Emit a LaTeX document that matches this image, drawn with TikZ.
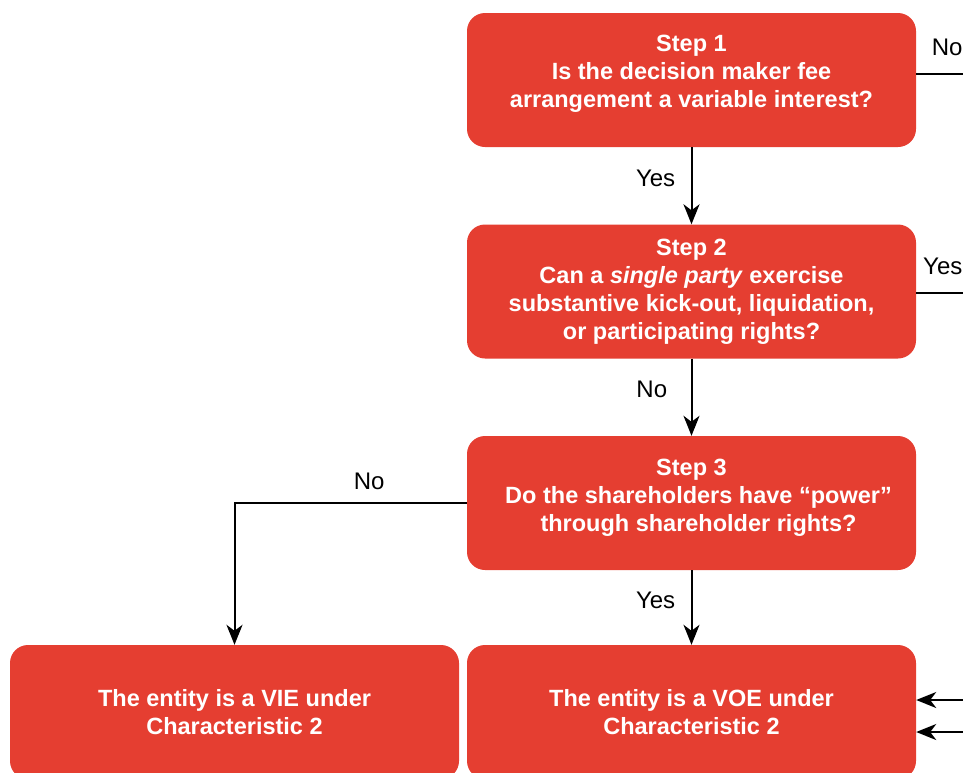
\documentclass[tikz,border=0pt]{standalone}
\usepackage{fontspec}
\setmainfont{Liberation Sans}
\usetikzlibrary{arrows.meta}
\definecolor{boxred}{RGB}{229, 62, 49}

\begin{document}
\begin{tikzpicture}[x=1pt, y=-1pt,
   box/.style={fill=boxred, rounded corners=18pt, minimum width=449pt, minimum height=134pt,
     inner sep=0pt, align=center, text=white, font=\fontsize{23.5}{28}\selectfont\bfseries},
   lab/.style={font=\fontsize{24}{28}\selectfont},
   wire/.style={line width=2pt},
   arr/.style={wire, -{Stealth[length=20pt, width=16pt, inset=6pt]}}]
   \clip (0,0) rectangle (963,772);

   \draw[]
    (691.5,80) node[box, text depth=18pt](s1) {Step 1\\Is the decision maker fee\\arrangement a variable interest?}
    (691.5,291.5) node[box](s2) {Step 2\\Can a \textit{single party} exercise\\substantive kick-out, liquidation,\\or participating rights?}
    (691.5,503) node[box, text depth=16pt](s3) {Step 3\\\hspace*{14pt}Do the shareholders have “power”\\\hspace*{14pt}through shareholder rights?}
    (234.5,712) node[box, text depth=1pt](vie) {The entity is a VIE under\\Characteristic 2}
    (691.5,712) node[box, text depth=1pt](voe) {The entity is a VOE under\\Characteristic 2};

   %down the steps
   \draw[arr] (s1) -- node[lab, pos=0.4, left=12pt] {Yes} (s2);
   \draw[arr] (s2) -- node[lab, pos=0.4, left=20pt] {No} (s3);
   \draw[arr] (s3) -- node[lab, pos=0.4, left=12pt] {Yes} (voe);
   \draw[arr] (s3.west) -| node[lab, pos=0.21, above=9pt] {No} (vie.north);

   %off to the right
   \coordinate (r1) at (990,74);
   \coordinate (r2) at (990,293);
   \coordinate (in1) at (990,700);
   \coordinate (in2) at (990,732);
   \draw[wire] (s1.east |- r1) -- node[lab, pos=0.42, above=14pt] {No} (r1);
   \draw[wire] (s2.east |- r2) -- node[lab, pos=0.36, above=14pt] {Yes} (r2);
   \draw[arr] (in1) -- (voe.east |- in1);
   \draw[arr] (in2) -- (voe.east |- in2);
\end{tikzpicture}
\end{document}
